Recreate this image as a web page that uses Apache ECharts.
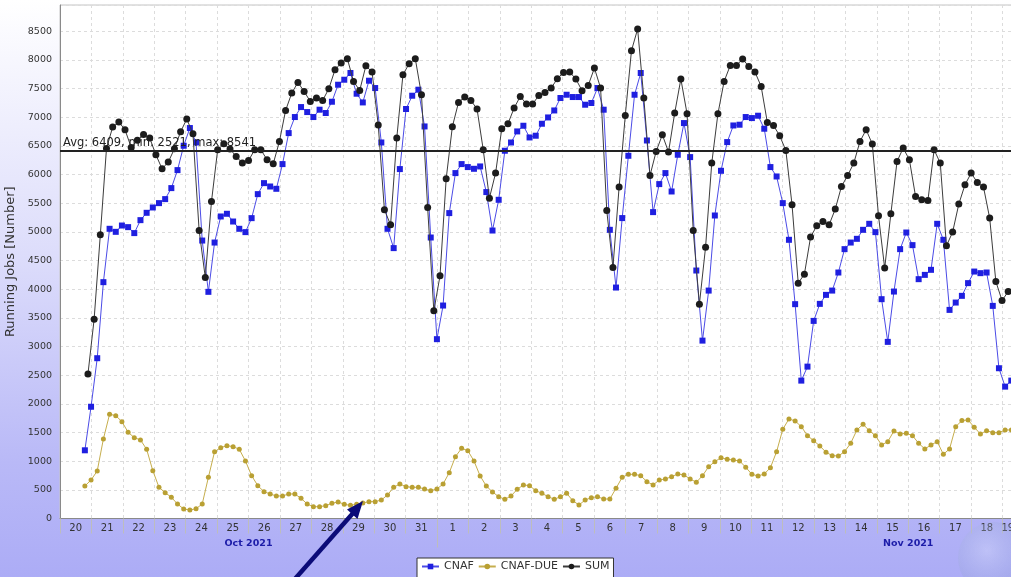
<!DOCTYPE html>
<html>
<head>
<meta charset="utf-8">
<script src="https://cdn.jsdelivr.net/npm/echarts@6/dist/echarts.min.js"></script>
<style>
html,body{margin:0;padding:0;}
body{background:linear-gradient(to bottom,#ffffff 0%,#dcdcfb 45%,#b9b9f7 80%,#acacf6 100%);}
#c{width:1011px;height:577px;}
</style>
</head>
<body>
<div id="c"></div>
<script>
// ---- tick labels ----
const dayLabels = ['20','21','22','23','24','25','26','27','28','29','30','31',
  '1','2','3','4','5','6','7','8','9','10','11','12','13','14','15','16','17','18','19'];
const monthLabels = ['Oct 2021', 'Nov 2021'];
const monthDays = [12, 30];          // days of each month on the axis (Oct 20-31, Nov 1-30)
const seriesNames = ['CNAF', 'CNAF-DUE', 'SUM'];

// ---- sampling (hours since 2021-10-20 00:00) ----
const START_H = 19.0;
const STEP_H = 4.718;

// ---- series values ----
const cnaf = [
  1190, 1950, 2797, 4124, 5055, 5002, 5112, 5084, 4980, 5206,
  5334, 5427, 5503, 5573, 5765, 6079, 6504, 6813, 6561, 4850,
  3955, 4815, 5270, 5317, 5182, 5055, 4997, 5241, 5660, 5852,
  5793, 5753, 6184, 6725, 7005, 7179, 7092, 7005, 7133, 7075,
  7272, 7569, 7656, 7773, 7412, 7260, 7639, 7511, 6561, 5055,
  4718, 6097, 7145, 7377, 7482, 6841, 4903, 3129, 3716, 5329,
  6027, 6184, 6132, 6102, 6143, 5696, 5025, 5561, 6417, 6561,
  6754, 6853, 6649, 6679, 6888, 6998, 7120, 7337, 7394, 7354,
  7354, 7220, 7250, 7511, 7133, 5037, 4030, 5242, 6329, 7394,
  7773, 6596, 5346, 5835, 6027, 5706, 6347, 6900, 6306, 4327,
  3104, 3977, 5287, 6067, 6568, 6858, 6871, 7005, 6987, 7028,
  6801, 6132, 5968, 5503, 4863, 3740, 2406, 2650, 3448, 3745,
  3902, 3977, 4292, 4700, 4815, 4880, 5037, 5142, 4997, 3827,
  3082, 3960, 4700, 4990, 4770, 4176, 4251, 4339, 5142, 4863,
  3640, 3768, 3885, 4107, 4309, 4281, 4292, 3710, 2622, 2301,
  2406
];
const cnafDue = [
  567, 672, 829, 1388, 1819, 1795, 1690, 1505, 1411, 1371,
  1208, 835, 545, 451, 370, 253, 166, 148, 171, 253,
  719, 1166, 1236, 1271, 1254, 1208, 1004, 747, 573, 468,
  428, 393, 393, 428, 428, 352, 253, 206, 206, 224,
  265, 290, 247, 230, 250, 270, 294, 294, 323, 410,
  545, 602, 555, 545, 545, 515, 486, 515, 602, 800,
  1079, 1225, 1184, 1004, 742, 567, 463, 381, 335, 393,
  509, 585, 573, 486, 440, 381, 335, 381, 440, 311,
  236, 323, 364, 381, 340, 340, 527, 719, 771, 771,
  747, 643, 585, 672, 690, 730, 777, 760, 690, 632,
  747, 904, 992, 1062, 1033, 1021, 1004, 894, 771, 742,
  777, 887, 1166, 1557, 1737, 1702, 1603, 1446, 1358, 1266,
  1156, 1097, 1091, 1166, 1313, 1545, 1645, 1533, 1446, 1283,
  1341, 1528, 1475, 1487, 1446, 1313, 1213, 1283, 1341, 1121,
  1213, 1603, 1708, 1720, 1592, 1475, 1533, 1498, 1498, 1545,
  1545
];
const sum = [
  2521, 3478, 4950, 6457, 6830, 6918, 6783, 6474, 6600, 6700,
  6638, 6347, 6102, 6219, 6451, 6748, 6970, 6713, 5025, 4204,
  5531, 6434, 6539, 6446, 6317, 6202, 6247, 6434, 6434, 6259,
  6190, 6579, 7120, 7424, 7609, 7452, 7277, 7336, 7295, 7499,
  7831, 7948, 8023, 7626, 7469, 7900, 7790, 6865, 5386, 5124,
  6638, 7743, 7936, 8023, 7394, 5427, 3623, 4234, 5928, 6836,
  7260, 7354, 7295, 7145, 6434, 5590, 6027, 6801, 6888, 7162,
  7365, 7232, 7232, 7382, 7434, 7511, 7674, 7784, 7790, 7668,
  7464, 7557, 7860, 7511, 5374, 4379, 5783, 7033, 8163, 8541,
  7337, 5985, 6405, 6696, 6394, 7075, 7668, 7063, 5025, 3740,
  4735, 6202, 7063, 7626, 7906, 7906, 8018, 7888, 7790, 7539,
  6911, 6858, 6679, 6422, 5474, 4107, 4264, 4910, 5107, 5182,
  5124, 5399, 5793, 5985, 6202, 6579, 6783, 6533, 5282, 4369,
  5317, 6230, 6464, 6259, 5619, 5561, 5549, 6434, 6202, 4758,
  4997, 5486, 5823, 6027, 5863, 5783, 5242, 4135, 3803, 3960
];
const sumAvg = 6409;
const sumMin = 2521;
const sumMax = 8541;

// ---- axis geometry ----
const X_MAX = 728;   // hours shown
const Y_MAX = 8960;

const dayCenters = [];
for (let i = 0; i < dayLabels.length; i++) {
  const a = i * 24, b = Math.min((i + 1) * 24, X_MAX);
  dayCenters.push((a + b) / 2);
}
const monthCenters = [];
let acc = 0;
monthDays.forEach(d => { monthCenters.push((acc + acc + d * 24) / 2); acc += d * 24; });
const monthBounds = [monthDays[0] * 24];

const cnafData = cnaf.map((v, i) => [START_H + i * STEP_H, v]);
const dueData = cnafDue.map((v, i) => [START_H + i * STEP_H, v]);
const sumData = sum.map((v, i) => [START_H + (i + 0.5) * STEP_H, v]);

const chart = echarts.init(document.getElementById('c'), null, {renderer: 'canvas'});
const FONT = 'DejaVu Sans';

const option = {
  animation: false,
  backgroundColor: 'transparent',
  textStyle: {fontFamily: FONT},
  grid: {
    left: 60, top: 5, width: 953, bottom: 58.5,
    outerBoundsMode: 'none', containLabel: false,
    show: true, backgroundColor: '#ffffff', borderColor: '#c4c4c4', borderWidth: 1
  },
  legend: {
    data: seriesNames,
    left: 417, top: 558,
    backgroundColor: '#ffffff', borderColor: '#333', borderWidth: 1,
    padding: [3, 4, 6, 4], itemGap: 4, itemWidth: 17, itemHeight: 7,
    textStyle: {fontFamily: FONT, fontSize: 11, color: '#333'}
  },
  xAxis: [{
    type: 'value', min: 0, max: X_MAX, interval: 24,
    axisLine: {show: true, lineStyle: {color: '#8a8a8a'}},
    axisTick: {show: true, length: 15, lineStyle: {color: '#bdbdbd'}},
    splitLine: {show: true, lineStyle: {color: '#dcdcdc', type: [3, 3]}},
    axisLabel: {
      customValues: dayCenters, interval: 0, margin: 5, hideOverlap: false,
      color: '#333', fontSize: 10, fontFamily: FONT,
      formatter: v => dayLabels[Math.min(dayLabels.length - 1, Math.floor(v / 24))]
    }
  }, {
    type: 'value', min: 0, max: X_MAX, position: 'bottom', offset: 15,
    axisLine: {show: false},
    splitLine: {show: false},
    axisTick: {show: true, customValues: monthBounds, length: 14, lineStyle: {color: '#bdbdbd'}},
    axisLabel: {
      customValues: monthCenters, interval: 0, margin: 5,
      color: '#1c1ca8', fontWeight: 'bold', fontSize: 9.5, fontFamily: FONT,
      formatter: v => {
        let best = 0;
        monthCenters.forEach((c, i) => { if (Math.abs(c - v) < Math.abs(monthCenters[best] - v)) best = i; });
        return monthLabels[best];
      }
    }
  }],
  yAxis: {
    type: 'value', min: 0, max: Y_MAX, interval: 500,
    name: 'Running Jobs [Number]', nameLocation: 'middle', nameGap: 35,
    nameTextStyle: {color: '#333', fontSize: 13, fontFamily: FONT},
    axisLine: {show: true, lineStyle: {color: '#8a8a8a'}},
    axisTick: {show: false},
    splitLine: {show: true, lineStyle: {color: '#dcdcdc', type: [3, 3]}},
    axisLabel: {color: '#333', fontSize: 9.5, margin: 8, showMaxLabel: false, fontFamily: FONT,
      formatter: v => String(v)}
  },
  series: [{
    name: seriesNames[0], type: 'line', data: cnafData,
    symbol: 'rect', symbolSize: 6,
    itemStyle: {color: '#1f1fe0'},
    lineStyle: {color: '#4b4be6', width: 1},
    z: 3
  }, {
    name: seriesNames[1], type: 'line', data: dueData,
    symbol: 'circle', symbolSize: 5,
    itemStyle: {color: '#b9a033'},
    lineStyle: {color: '#c6ae4e', width: 1},
    z: 2
  }, {
    name: seriesNames[2], type: 'line', data: sumData,
    symbol: 'circle', symbolSize: 7,
    itemStyle: {color: '#1c1c1c'},
    lineStyle: {color: '#3c3c3c', width: 1},
    z: 4,
    markLine: {
      silent: true, symbol: ['none', 'none'], animation: false,
      lineStyle: {color: '#222', width: 2, type: 'solid'},
      label: {
        show: true, position: 'insideStartTop', distance: [3, 2],
        color: '#222', fontSize: 11.5, fontFamily: FONT,
        formatter: () => 'Avg: ' + sumAvg + ', min: ' + sumMin + ', max: ' + sumMax
      },
      data: [{yAxis: sumAvg}]
    }
  }],
  graphic: [{
    type: 'circle', z: 1, silent: true,
    shape: {cx: 994, cy: 558, r: 36},
    style: {
      opacity: 0.55,
      fill: new echarts.graphic.RadialGradient(0.4, 0.4, 0.7, [
        {offset: 0, color: 'rgba(215,222,250,0.7)'},
        {offset: 0.7, color: 'rgba(150,165,215,0.5)'},
        {offset: 1, color: 'rgba(120,135,200,0.25)'}
      ])
    }
  }, {
    type: 'polyline', z: 100, silent: true,
    shape: {points: [[294, 580], [354, 512]]},
    style: {stroke: '#0b0b78', lineWidth: 4.5, fill: null}
  }, {
    type: 'polygon', z: 100, silent: true,
    shape: {points: [[363, 501], [347, 509.5], [357.5, 519]]},
    style: {fill: '#0b0b78'}
  }]
};
chart.setOption(option);
</script>
</body>
</html>
